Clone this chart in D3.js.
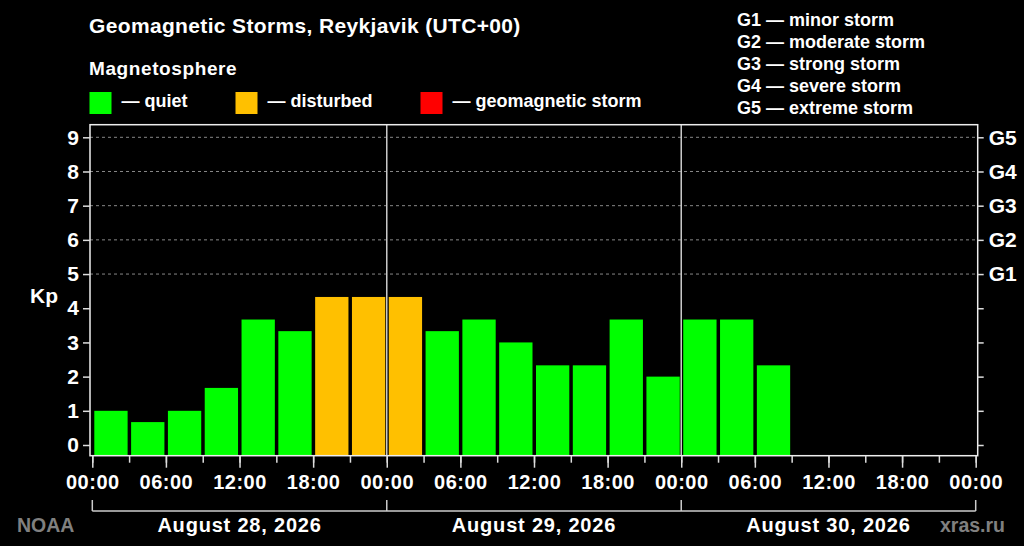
<!DOCTYPE html>
<html>
<head>
<meta charset="utf-8">
<script src="https://cdn.jsdelivr.net/npm/d3@7"></script>
<style>
  html, body { margin: 0; padding: 0; background: #000; }
  svg { display: block; font-family: "Liberation Sans", Arial, sans-serif; font-weight: bold; }
  .axis text { fill: #fff; font-size: 20px; font-weight: bold; }
  .axis line { stroke: #ddd; stroke-width: 1.5; }
</style>
</head>
<body>
<div id="chart"></div>
<script>
// Kp index every 3 hours, starting 2026-08-28 00:00 UTC
const startTime = Date.UTC(2026, 7, 28, 0, 0);
const endTime = Date.UTC(2026, 7, 31, 0, 0);
const kpValues = [1, 0.67, 1, 1.67, 3.67, 3.33, 4.33, 4.33,
                  4.33, 3.33, 3.67, 3, 2.33, 2.33, 3.67, 2,
                  3.67, 3.67, 2.33];
const dayLabels = ["August 28, 2026", "August 29, 2026", "August 30, 2026"];
const kpTicks = [0, 1, 2, 3, 4, 5, 6, 7, 8, 9];
const stormTicks = { 5: "G1", 6: "G2", 7: "G3", 8: "G4", 9: "G5" };
const stormLegend = ["G1 \u2014 minor storm", "G2 \u2014 moderate storm", "G3 \u2014 strong storm",
                     "G4 \u2014 severe storm", "G5 \u2014 extreme storm"];
const stateNames = ["\u2014 quiet", "\u2014 disturbed", "\u2014 geomagnetic storm"];
const stateColors = ["#00ff00", "#ffc000", "#ff0000"];

const W = 1024, H = 546;
const plotLeft = 90, plotRight = 977.7, plotTop = 124.7, plotBottom = 455.7;

let svg = d3.select('#chart').append('svg')
  .attr('width', W)
  .attr('height', H);

let x = d3.scaleUtc()
  .domain([new Date(startTime), new Date(endTime)])
  .range([92.3, 975.7]);
let y = d3.scaleLinear()
  .domain([0, 9])
  .range([445, 137.3]);

function kpColor(v) {
  if (v >= 5) return stateColors[2];
  if (v >= 4) return stateColors[1];
  return stateColors[0];
}

// title and legends
svg.append('text')
  .attr('x', 89).attr('y', 33)
  .attr('fill', '#fff')
  .style('font-size', '21px')
  .style('letter-spacing', '0.35px')
  .text('Geomagnetic Storms, Reykjavik (UTC+00)');

svg.append('text')
  .attr('x', 89).attr('y', 75)
  .attr('fill', '#fff')
  .style('font-size', '19px')
  .style('letter-spacing', '0.6px')
  .text('Magnetosphere');

let legendX = [89.5, 235.5, 420.5];
let legend = svg.append('g').selectAll('g')
  .data(stateNames)
  .enter().append('g')
  .attr('transform', (d, i) => `translate(${legendX[i]},92)`);
legend.append('rect')
  .attr('width', 22).attr('height', 22)
  .attr('fill', (d, i) => stateColors[i]);
legend.append('text')
  .attr('x', 32).attr('y', 15)
  .attr('fill', '#fff')
  .style('font-size', '18px')
  .text(d => d);

svg.append('g').selectAll('text')
  .data(stormLegend)
  .enter().append('text')
  .attr('x', 737)
  .attr('y', (d, i) => 25.5 + i * 22)
  .attr('fill', '#fff')
  .style('font-size', '18px')
  .text(d => d);

// grid lines for storm levels
svg.append('g').selectAll('line')
  .data(kpTicks.filter(k => k >= 5))
  .enter().append('line')
  .attr('x1', plotLeft).attr('x2', plotRight)
  .attr('y1', d => y(d)).attr('y2', d => y(d))
  .attr('stroke', '#888')
  .attr('stroke-width', 1)
  .attr('stroke-dasharray', '3,3');

// bars
let bars = kpValues.map((v, i) => ({ t: new Date(startTime + i * 3 * 3600e3), v: v }));
svg.append('g').selectAll('rect')
  .data(bars)
  .enter().append('rect')
  .attr('x', d => x(d.t) + 2)
  .attr('width', d => x(d3.utcHour.offset(d.t, 3)) - x(d.t) - 3.5)
  .attr('y', d => y(d.v))
  .attr('height', d => plotBottom - y(d.v))
  .attr('fill', d => kpColor(d.v));

// day separators
let dayStarts = d3.utcDay.range(new Date(startTime), new Date(endTime));
svg.append('g').selectAll('line')
  .data(dayStarts.slice(1))
  .enter().append('line')
  .attr('x1', d => x(d)).attr('x2', d => x(d))
  .attr('y1', plotTop).attr('y2', plotBottom)
  .attr('stroke', '#ccc')
  .attr('stroke-width', 1.5);

// frame
svg.append('rect')
  .attr('x', plotLeft).attr('y', plotTop)
  .attr('width', plotRight - plotLeft)
  .attr('height', plotBottom - plotTop)
  .attr('fill', 'none')
  .attr('stroke', '#eee')
  .attr('stroke-width', 1.5);

// axes
let yAxisL = svg.append('g')
  .attr('class', 'axis')
  .attr('transform', `translate(${plotLeft},0)`)
  .call(d3.axisLeft(y).tickValues(kpTicks).tickFormat(d3.format('d')).tickSize(7).tickPadding(4));
yAxisL.select('.domain').remove();
yAxisL.selectAll('text').style('font-size', '21px');

let yAxisR = svg.append('g')
  .attr('class', 'axis')
  .attr('transform', `translate(${plotRight},0)`)
  .call(d3.axisRight(y).tickValues(kpTicks).tickFormat(d => stormTicks[d] || '').tickSize(6).tickPadding(5));
yAxisR.select('.domain').remove();
yAxisR.selectAll('text').style('font-size', '21px');

let xMinor = svg.append('g')
  .attr('class', 'axis')
  .attr('transform', `translate(0,${plotBottom})`)
  .call(d3.axisBottom(x).ticks(d3.utcHour.every(3)).tickFormat('').tickSize(7));
xMinor.select('.domain').remove();

let xMajor = svg.append('g')
  .attr('class', 'axis')
  .attr('transform', `translate(0,${plotBottom})`)
  .call(d3.axisBottom(x).ticks(d3.utcHour.every(6)).tickFormat(d3.utcFormat('%H:%M')).tickSize(12).tickPadding(7));
xMajor.select('.domain').remove();
xMajor.selectAll('text').style('letter-spacing', '0.5px');

svg.append('text')
  .attr('x', 44).attr('y', 303)
  .attr('fill', '#fff')
  .attr('text-anchor', 'middle')
  .style('font-size', '21px')
  .text('Kp');

// day bracket
let bracketY = 511;
let bracket = svg.append('g');
bracket.append('line')
  .attr('x1', x(new Date(startTime))).attr('x2', x(new Date(endTime)))
  .attr('y1', bracketY).attr('y2', bracketY)
  .attr('stroke', '#ccc').attr('stroke-width', 1.5);
bracket.selectAll('line.tick')
  .data(dayStarts.concat([new Date(endTime)]))
  .enter().append('line')
  .attr('class', 'tick')
  .attr('x1', d => x(d)).attr('x2', d => x(d))
  .attr('y1', bracketY - 11).attr('y2', bracketY)
  .attr('stroke', '#ccc').attr('stroke-width', 1.5);
bracket.selectAll('text')
  .data(dayLabels)
  .enter().append('text')
  .attr('x', (d, i) => (x(dayStarts[i]) + x(d3.utcDay.offset(dayStarts[i], 1))) / 2)
  .attr('y', 532)
  .attr('text-anchor', 'middle')
  .attr('fill', '#fff')
  .style('font-size', '20px')
  .style('letter-spacing', '0.8px')
  .text(d => d);

svg.append('text')
  .attr('x', 17).attr('y', 532)
  .attr('fill', '#808080')
  .style('font-size', '19.5px')
  .text('NOAA');
svg.append('text')
  .attr('x', 1005).attr('y', 532)
  .attr('text-anchor', 'end')
  .attr('fill', '#808080')
  .style('font-size', '19.5px')
  .text('xras.ru');
</script>
</body>
</html>
